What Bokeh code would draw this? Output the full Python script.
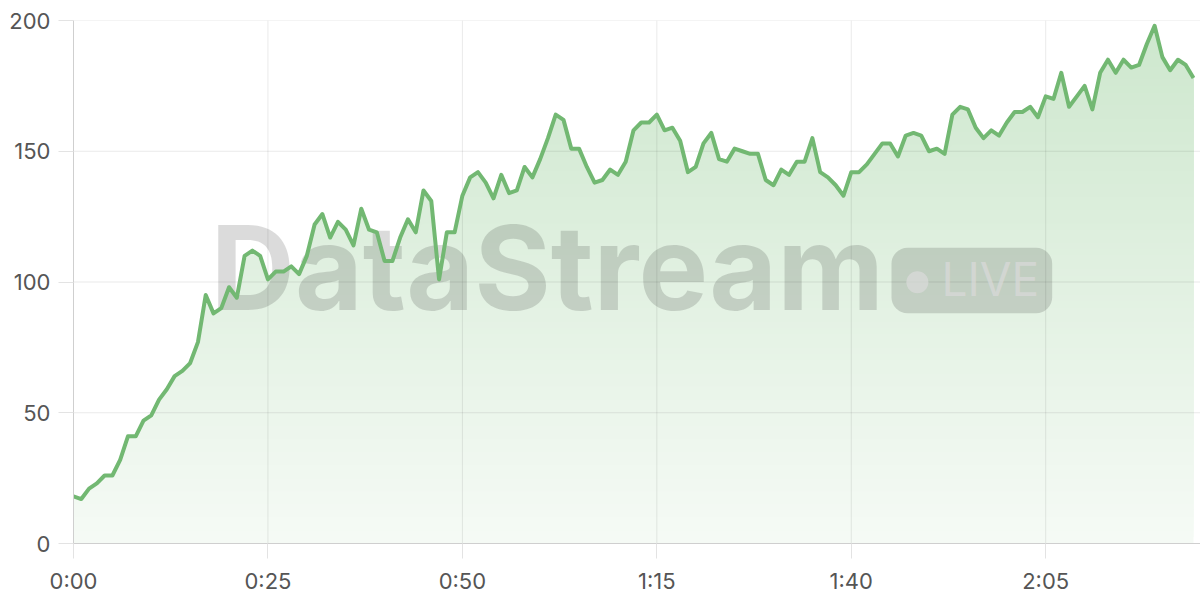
import numpy as np
from bokeh.plotting import figure
from bokeh.models import Range1d, FixedTicker, BoxAnnotation
from bokeh.core.properties import value
from bokeh.embed import file_html
from bokeh.resources import INLINE

# ---- data ----
seconds = list(range(145))
viewers = [
    18, 17, 21, 23, 26, 26, 32, 41, 41, 47, 49, 55, 59, 64, 66, 69, 77, 95, 88, 90, 98, 94, 110, 112, 110,
    101, 104, 104, 106, 103, 110, 122, 126, 117, 123, 120, 114, 128, 120, 119, 108, 108, 117, 124, 119, 135, 131, 101, 119, 119,
    133, 140, 142, 138, 132, 141, 134, 135, 144, 140, 147, 155, 164, 162, 151, 151, 144, 138, 139, 143, 141, 146, 158, 161, 161,
    164, 158, 159, 154, 142, 144, 153, 157, 147, 146, 151, 150, 149, 149, 139, 137, 143, 141, 146, 146, 155, 142, 140, 137, 133,
    142, 142, 145, 149, 153, 153, 148, 156, 157, 156, 150, 151, 149, 164, 167, 166, 159, 155, 158, 156, 161, 165, 165, 167, 163,
    171, 170, 180, 167, 171, 175, 166, 180, 185, 180, 185, 182, 183, 191, 198, 186, 181, 185, 183, 178,
]
x_ticks = [0, 25, 50, 75, 100, 125]
x_tick_labels = ["0:00", "0:25", "0:50", "1:15", "1:40", "2:05"]
y_ticks = [0, 50, 100, 150, 200]

LINE = "#72b872"
FONT = "Inter"
X_END = 144.9
Y_END = 200

p = figure(width=1200, height=600, output_backend="svg", toolbar_location=None,
           x_range=Range1d(0, X_END), y_range=Range1d(0, Y_END),
           min_border_left=73, min_border_top=20, min_border_right=0, min_border_bottom=57)
p.outline_line_color = None
p.background_fill_color = "white"
p.border_fill_color = "white"
p.grid.grid_line_color = None

# axes
for ax in (p.xaxis[0], p.yaxis[0]):
    ax.axis_line_color = "#cfcfcf"
    ax.axis_line_width = 1
    ax.major_tick_line_color = "#e3e3e3"
    ax.major_tick_out = 15
    ax.major_tick_in = 0
    ax.minor_tick_line_color = None
    ax.major_label_text_font = FONT
    ax.major_label_text_font_size = "22px"
    ax.major_label_text_color = "#555555"
p.xaxis.ticker = FixedTicker(ticks=x_ticks)
p.xaxis.major_label_overrides = {t: l for t, l in zip(x_ticks, x_tick_labels)}
p.xaxis.major_label_standoff = 9
p.yaxis.ticker = FixedTicker(ticks=y_ticks)
p.yaxis.major_label_standoff = 8

# gradient-like area fill: stacked opaque bands, colour by height
xs = np.array(seconds, dtype=float)
ys = np.array(viewers, dtype=float)
green = np.array([120, 190, 120])
step = 2.5
for lvl in np.arange(0, Y_END, step):
    a = 0.07 + 0.0015 * (lvl + step / 2)
    rgb = np.round(255 - (255 - green) * a).astype(int)
    col = "#%02x%02x%02x" % tuple(rgb)
    p.varea(x=xs, y1=np.minimum(ys, lvl), y2=ys, fill_color=col, fill_alpha=1.0)

# grid lines drawn above the fill (translucent, so they tint with the fill)
p.segment(x0=x_ticks, y0=[0] * len(x_ticks), x1=x_ticks, y1=[Y_END] * len(x_ticks),
          line_color="#000000", line_alpha=0.085, line_width=1)
p.segment(x0=[0] * len(y_ticks), y0=y_ticks, x1=[X_END] * len(y_ticks), y1=y_ticks,
          line_color="#000000", line_alpha=0.085, line_width=1)

# watermark
p.text(x=[17.6], y=[105.5], text=["DataStream"], text_font=value(FONT), text_font_style="bold",
       text_font_size="117px", text_color="#000000", text_alpha=0.14, text_baseline="alphabetic",
       text_align="left")
pill = BoxAnnotation(left=105.17, right=125.83, bottom=88.07, top=113.08, fill_color="#000000",
                     fill_alpha=0.14, line_color=None, border_radius=16, level="glyph")
p.add_layout(pill)
p.scatter(x=[108.5], y=[99.9], size=22, marker="circle", fill_color="white", fill_alpha=0.7, line_color=None)
p.text(x=[111.6], y=[101.3], text=["LIVE"], text_font=value(FONT), text_font_style="normal",
       text_font_size="46px", text_color="white", text_alpha=0.7, text_baseline="alphabetic",
       text_align="left")

# line
p.line(x=xs, y=ys, line_color=LINE, line_width=4, line_join="round")

open("out.html", "w").write(file_html(p, INLINE))
